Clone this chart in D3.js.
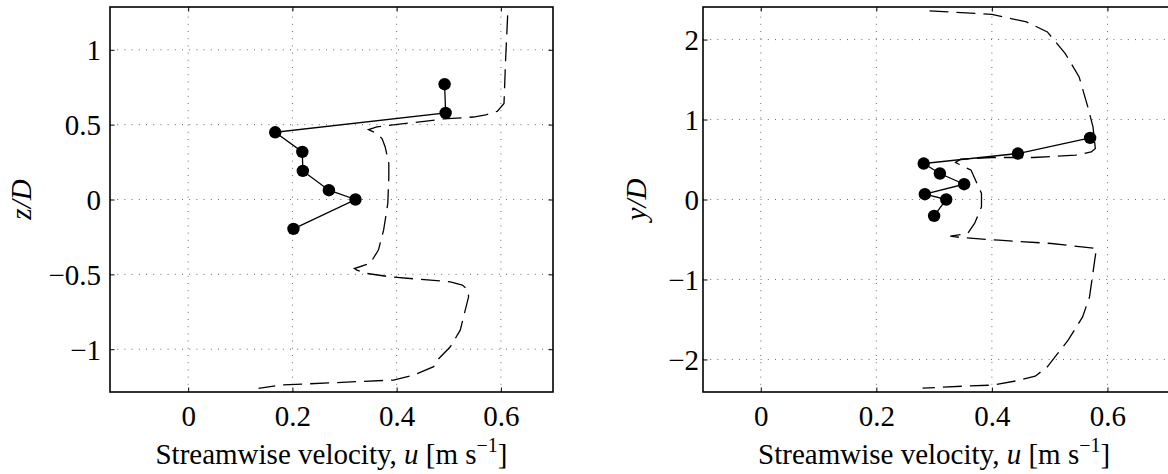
<!DOCTYPE html>
<html>
<head>
<meta charset="utf-8">
<script src="https://cdn.jsdelivr.net/npm/d3@7"></script>
<style>
  body { margin: 0; background: #fff; }
  svg { display: block; }
  svg text { font-family: "Liberation Serif", "DejaVu Serif", "Times New Roman", serif; fill: #000; }
  .tick text { font-size: 29px; }
</style>
</head>
<body>
<div id="chart"></div>
<script>
// measured points (symbols)
const leftDotU = [0.492, 0.494, 0.167, 0.219, 0.220, 0.270, 0.321, 0.202];
const leftDotZ = [0.770, 0.578, 0.449, 0.318, 0.191, 0.062, 0.000, -0.196];

// simulated profile (dashed)
const leftProfU = [0.613, 0.609, 0.606, 0.593, 0.571, 0.547, 0.490, 0.362, 0.346, 0.361, 0.372, 0.378, 0.385, 0.385,
    0.383, 0.375, 0.365, 0.349, 0.319, 0.324, 0.343, 0.388, 0.503, 0.526, 0.537, 0.538, 0.522, 0.503, 0.478,
    0.471, 0.433, 0.394, 0.279, 0.176, 0.135];
const leftProfZ = [1.230, 0.930, 0.641, 0.589, 0.566, 0.551, 0.538, 0.485, 0.467, 0.443, 0.407, 0.351, 0.240, 0.151,
    -0.027, -0.205, -0.338, -0.427, -0.461, -0.472, -0.494, -0.517, -0.550, -0.572, -0.605, -0.650, -0.873, -0.984, -1.073,
    -1.117, -1.173, -1.206, -1.224, -1.240, -1.262];

const rightDotU = [0.570, 0.445, 0.282, 0.310, 0.352, 0.284, 0.321, 0.300];
const rightDotY = [0.770, 0.575, 0.450, 0.325, 0.191, 0.066, 0.000, -0.205];

const rightProfU = [0.292, 0.400, 0.460, 0.496, 0.527, 0.551, 0.566, 0.575, 0.579, 0.572, 0.545, 0.472, 0.400, 0.346,
    0.337, 0.364, 0.382, 0.382, 0.370, 0.358, 0.328, 0.346, 0.412, 0.503, 0.581, 0.578, 0.569, 0.557, 0.532,
    0.514, 0.496, 0.475, 0.442, 0.400, 0.352, 0.280];
const rightProfY = [2.358, 2.316, 2.220, 2.095, 1.825, 1.533, 1.158, 0.908, 0.638, 0.595, 0.554, 0.525, 0.525, 0.504,
    0.463, 0.366, 0.075, -0.093, -0.300, -0.425, -0.459, -0.475, -0.509, -0.550, -0.613, -0.759, -1.218, -1.468, -1.759,
    -1.925, -2.093, -2.209, -2.268, -2.321, -2.334, -2.359];

const xTickVals = [0, 0.2, 0.4, 0.6];
const leftYTickVals = [-1, -0.5, 0, 0.5, 1];
const rightYTickVals = [-2, -1, 0, 1, 2];

const xLabel = "Streamwise velocity, ";

const W = 1168, H = 474;
const svg = d3.select("#chart").append("svg")
    .attr("width", W)
    .attr("height", H);

const fmt = d3.format("");

function drawPanel(opts) {
    const x = d3.scaleLinear().domain(opts.xDomain).range([opts.left, opts.right]);
    const y = d3.scaleLinear().domain(opts.yDomain).range([392, 7]);
    const g = svg.append("g");

    const clipId = "clip-" + opts.name;
    svg.append("clipPath").attr("id", clipId)
        .append("rect")
        .attr("x", opts.left).attr("y", 7)
        .attr("width", opts.right - opts.left).attr("height", 385);

    // dotted grid
    const grid = g.append("g")
        .attr("stroke", "#444")
        .attr("stroke-width", 0.8)
        .attr("stroke-dasharray", "1,6.2");
    grid.selectAll("line.gx").data(opts.xTicks).join("line")
        .attr("class", "gx")
        .attr("x1", d => x(d)).attr("x2", d => x(d))
        .attr("y1", y.range()[0]).attr("y2", y.range()[1]);
    grid.selectAll("line.gy").data(opts.yTicks).join("line")
        .attr("class", "gy")
        .attr("x1", opts.left).attr("x2", opts.right)
        .attr("y1", d => y(d)).attr("y2", d => y(d));

    // axes with inward ticks
    const bottom = g.append("g").attr("transform", `translate(0,${y.range()[0]})`)
        .call(d3.axisBottom(x).tickValues(opts.xTicks).tickFormat(fmt)
            .tickSizeInner(-4.5).tickSizeOuter(0).tickPadding(13));
    const top = g.append("g").attr("transform", `translate(0,${y.range()[1]})`)
        .call(d3.axisTop(x).tickValues(opts.xTicks).tickFormat("")
            .tickSizeInner(-4.5).tickSizeOuter(0));
    const leftAx = g.append("g").attr("transform", `translate(${opts.left},0)`)
        .call(d3.axisLeft(y).tickValues(opts.yTicks).tickFormat(fmt)
            .tickSizeInner(-4.5).tickSizeOuter(0).tickPadding(opts.yPad));
    const rightAx = g.append("g").attr("transform", `translate(${opts.right},0)`)
        .call(d3.axisRight(y).tickValues(opts.yTicks).tickFormat("")
            .tickSizeInner(-4.5).tickSizeOuter(0));
    [bottom, top, leftAx, rightAx].forEach(a => {
        a.select(".domain").remove();
        a.attr("font-family", null).attr("font-size", null);
        a.selectAll(".tick line").attr("stroke", "#000").attr("stroke-width", 1);
    });
    leftAx.selectAll(".tick text").attr("dy", "0.34em");

    // box
    g.append("rect")
        .attr("x", opts.left).attr("y", 7)
        .attr("width", opts.right - opts.left).attr("height", 385)
        .attr("fill", "none").attr("stroke", "#000").attr("stroke-width", 1.6);

    const plot = g.append("g").attr("clip-path", `url(#${clipId})`);

    const profLine = d3.line().x(d => x(d[0])).y(d => y(d[1]));
    plot.append("path")
        .datum(d3.zip(opts.profU, opts.profV))
        .attr("d", profLine)
        .attr("fill", "none")
        .attr("stroke", "#000")
        .attr("stroke-width", 1.3)
        .attr("stroke-dasharray", "19,8");

    const dots = d3.zip(opts.dotU, opts.dotV);
    plot.append("path")
        .datum(dots)
        .attr("d", profLine)
        .attr("fill", "none")
        .attr("stroke", "#000")
        .attr("stroke-width", 1.3);
    plot.selectAll("circle").data(dots).join("circle")
        .attr("cx", d => x(d[0]))
        .attr("cy", d => y(d[1]))
        .attr("r", 6.2)
        .attr("fill", "#000");

    // axis labels
    const lbl = g.append("text")
        .attr("x", x(opts.labelMid))
        .attr("y", 464)
        .attr("text-anchor", "middle")
        .attr("font-size", 29);
    lbl.append("tspan").text(xLabel);
    lbl.append("tspan").attr("font-style", "italic").text("u");
    lbl.append("tspan").text(" [m s");
    lbl.append("tspan").attr("font-size", 20).attr("dy", -12).text("\u22121");
    lbl.append("tspan").attr("dy", 12).text("]");

    const yl = g.append("text")
        .attr("transform", `translate(${opts.yLabelX},${y(0)}) rotate(-90)`)
        .attr("text-anchor", "middle")
        .attr("font-size", 29)
        .attr("font-style", "italic");
    yl.append("tspan").text(opts.yName);
    yl.append("tspan").text("/");
    yl.append("tspan").text("D");
}

drawPanel({
    name: "left", left: 110, right: 553,
    xDomain: [-0.15, 0.7], yDomain: [-1.286, 1.286],
    xTicks: xTickVals, yTicks: leftYTickVals, yPad: 9,
    dotU: leftDotU, dotV: leftDotZ, profU: leftProfU, profV: leftProfZ,
    labelMid: 0.275, yName: "z", yLabelX: 31
});

drawPanel({
    name: "right", left: 703, right: 1200,
    xDomain: [-0.1, 0.7602], yDomain: [-2.407, 2.407],
    xTicks: xTickVals, yTicks: rightYTickVals, yPad: 4,
    dotU: rightDotU, dotV: rightDotY, profU: rightProfU, profV: rightProfY,
    labelMid: 0.3, yName: "y", yLabelX: 646
});
</script>
</body>
</html>
